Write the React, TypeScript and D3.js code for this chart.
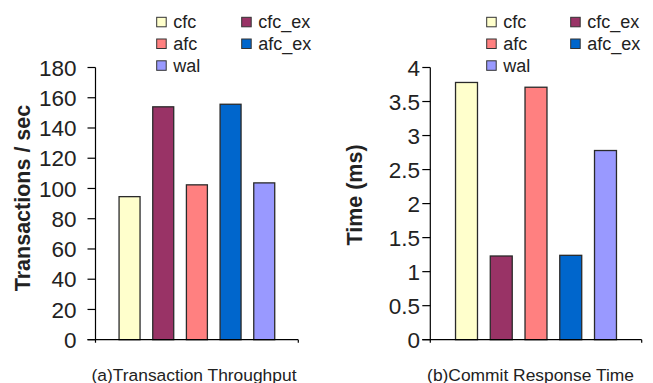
import React, { useRef, useEffect } from 'react';
import * as d3 from 'd3';

const categories = ['cfc', 'cfc_ex', 'afc', 'afc_ex', 'wal'];
const colors = ['#ffffcc', '#993366', '#ff8080', '#0066cc', '#9999ff'];
const throughput = [94.6, 154, 102.4, 155.7, 103.7];
const responseTime = [3.78, 1.23, 3.71, 1.24, 2.78];
const throughputTicks = [0, 20, 40, 60, 80, 100, 120, 140, 160, 180];
const timeTicks = [0, 0.5, 1, 1.5, 2, 2.5, 3, 3.5, 4];

const FONT = 'Liberation Sans, Arial, Helvetica, sans-serif';

const panels = [
  {
    values: throughput, ticks: throughputTicks, max: 180,
    x0: 95.5, x1: 298.3, labelRight: 76.5, yTitle: 'Transactions / sec', yTitleX: 30, yTitleY: 198,
    caption: '(a)Transaction Throughput', captionX: 194, legendX: [156.7, 241.7], padInner: 0.377, padOuter: 0.7,
  },
  {
    values: responseTime, ticks: timeTicks, max: 4,
    x0: 430.3, x1: 641.7, labelRight: 420, yTitle: 'Time (ms)', yTitleX: 362, yTitleY: 195,
    caption: '(b)Commit Response Time', captionX: 530.5, legendX: [486.7, 570.7], padInner: 0.368, padOuter: 0.726,
  },
];

const App = () => {
  const ref = useRef<SVGSVGElement>(null);

  useEffect(() => {
    const svg = d3.select(ref.current);
    svg.selectAll('*').remove();
    const yTop = 67.5;
    const yBot = 339.7;

    panels.forEach(p => {
      const g = svg.append('g');
      const y = d3.scaleLinear().domain([0, p.max]).range([yBot, yTop]);
      const x = d3.scaleBand<string>()
        .domain(categories)
        .range([p.x0, p.x1])
        .paddingInner(p.padInner)
        .paddingOuter(p.padOuter);

      // bars
      g.selectAll('rect.bar')
        .data(p.values)
        .enter()
        .append('rect')
        .attr('class', 'bar')
        .attr('x', (d, i) => x(categories[i]) as number)
        .attr('y', d => y(d))
        .attr('width', x.bandwidth())
        .attr('height', d => yBot - y(d))
        .attr('fill', (d, i) => colors[i])
        .attr('stroke', '#2a2a2a')
        .attr('stroke-width', 1.3);

      // y axis
      g.append('line')
        .attr('x1', p.x0).attr('x2', p.x0)
        .attr('y1', yTop).attr('y2', yBot + 3)
        .attr('stroke', '#000').attr('stroke-width', 1.2);
      g.selectAll('line.ytick')
        .data(p.ticks)
        .enter()
        .append('line')
        .attr('class', 'ytick')
        .attr('x1', p.x0 - 8).attr('x2', p.x0)
        .attr('y1', d => y(d)).attr('y2', d => y(d))
        .attr('stroke', '#000').attr('stroke-width', 1.2);
      g.selectAll('text.ylab')
        .data(p.ticks)
        .enter()
        .append('text')
        .attr('class', 'ylab')
        .attr('x', p.labelRight)
        .attr('y', d => y(d))
        .attr('dy', '0.36em')
        .attr('text-anchor', 'end')
        .attr('font-family', FONT)
        .attr('font-size', 22.5)
        .attr('fill', '#222')
        .text(d => String(d));

      // x axis
      g.append('line')
        .attr('x1', p.x0 - 8).attr('x2', p.x1)
        .attr('y1', yBot).attr('y2', yBot)
        .attr('stroke', '#000').attr('stroke-width', 1.2);
      g.append('line')
        .attr('x1', p.x1).attr('x2', p.x1)
        .attr('y1', yBot).attr('y2', yBot + 3)
        .attr('stroke', '#000').attr('stroke-width', 1.2);

      // y title
      g.append('text')
        .attr('transform', `translate(${p.yTitleX},${p.yTitleY}) rotate(-90)`)
        .attr('text-anchor', 'middle')
        .attr('font-family', FONT)
        .attr('font-weight', 'bold')
        .attr('font-size', 21.5)
        .attr('fill', '#222')
        .text(p.yTitle);

      // caption
      g.append('text')
        .attr('x', p.captionX)
        .attr('y', 380.5)
        .attr('text-anchor', 'middle')
        .attr('font-family', FONT)
        .attr('font-size', 17.4)
        .attr('fill', '#222')
        .text(p.caption);

      // legend
      const rowY = [22, 43.7, 65.5];
      const items = g.selectAll('g.leg')
        .data(categories)
        .enter()
        .append('g')
        .attr('class', 'leg')
        .attr('transform', (d, i) => `translate(${p.legendX[i % 2]},${rowY[Math.floor(i / 2)]})`);
      items.append('rect')
        .attr('x', 0).attr('y', -4.7)
        .attr('width', 9.5).attr('height', 9.5)
        .attr('fill', (d, i) => colors[i])
        .attr('stroke', '#333').attr('stroke-width', 1);
      items.append('text')
        .attr('x', 16.5)
        .attr('y', 0)
        .attr('dy', '0.35em')
        .attr('font-family', FONT)
        .attr('font-size', 18)
        .attr('fill', '#222')
        .text(d => d);
    });
  }, []);

  return (
    <svg
      ref={ref}
      width={653}
      height={383}
      style={{ position: 'absolute', left: 0, top: 0, background: '#fff' }}
    ></svg>
  );
};

export default App;
